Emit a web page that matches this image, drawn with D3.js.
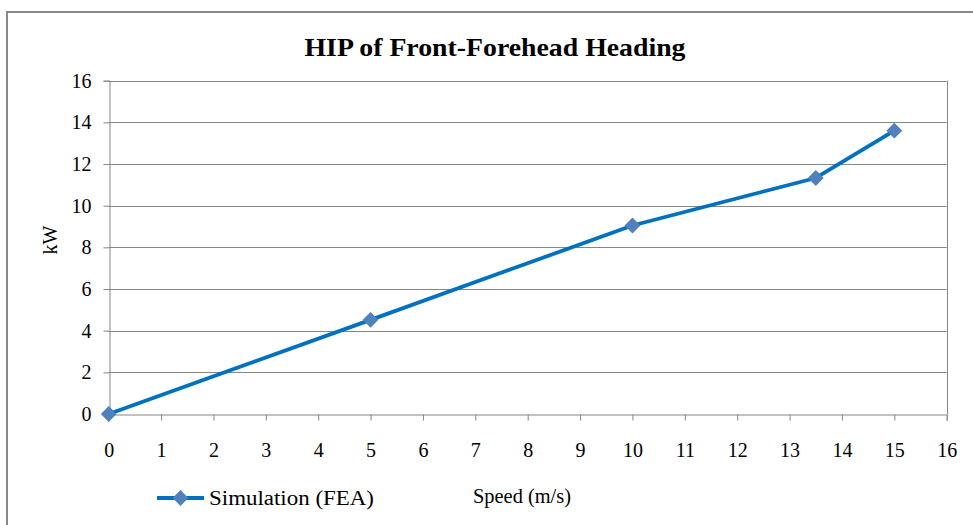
<!DOCTYPE html>
<html>
<head>
<meta charset="utf-8">
<script src="https://cdn.jsdelivr.net/npm/d3@7"></script>
<style>
html,body{margin:0;padding:0;background:#fff;}
svg{display:block;}
</style>
</head>
<body>
<svg id="chart" width="973" height="525" font-family="Liberation Serif, Times New Roman, serif"></svg>
<script>
const speeds = [0, 5, 10, 13.5, 15];
const powerKW = [0, 4.52, 9.05, 11.33, 13.6];
const xTicks = d3.range(0, 17, 1);
const yTicks = d3.range(0, 17, 2);
const chartTitle = "HIP of Front-Forehead Heading";
const xTitle = "Speed (m/s)";
const yTitle = "kW";
const seriesName = "Simulation (FEA)";

const FONT = "Liberation Serif, Times New Roman, serif";
const svg = d3.select("#chart");
const gridColor = "#868686";
const lineColor = "#0070C0";
const markerColor = "#4F81BD";

// outer chart frame
svg.append("rect").attr("x", 7).attr("y", 12).attr("width", 1000).attr("height", 600)
  .attr("fill", "#fff").attr("stroke", "#898989").attr("stroke-width", 2);

const x = d3.scaleLinear().domain([0, 16]).range([108.7, 946.7]);
const y = d3.scaleLinear().domain([0, 16]).range([414, 80.7]);

// gridlines
svg.append("g").selectAll("line").data(yTicks.filter(d => d > 0)).join("line")
  .attr("x1", x(0)).attr("x2", x(16))
  .attr("y1", d => Math.round(y(d)) + 0.5).attr("y2", d => Math.round(y(d)) + 0.5)
  .attr("stroke", gridColor).attr("stroke-width", 1);

// right border of plot
svg.append("line").attr("x1", Math.round(x(16)) + 0.5).attr("x2", Math.round(x(16)) + 0.5)
  .attr("y1", y(16)).attr("y2", y(0)).attr("stroke", gridColor);

// x axis
const xAxis = d3.axisBottom(x).tickValues(xTicks).tickFormat(d3.format("d")).tickSize(6).tickPadding(22);
const gx = svg.append("g").attr("transform", `translate(0,${Math.round(y(0)) + 0.5})`).call(xAxis)
  .attr("font-family", FONT).attr("font-size", 20);
gx.select(".domain").attr("stroke", gridColor);
gx.selectAll(".tick line").attr("stroke", gridColor);
gx.selectAll(".tick text").attr("fill", "#000");

// y axis
const yAxis = d3.axisLeft(y).tickValues(yTicks).tickFormat(d3.format("d")).tickSize(6).tickPadding(12);
const gy = svg.append("g").attr("transform", `translate(${Math.round(x(0)) + 0.5},0)`).call(yAxis)
  .attr("font-family", FONT).attr("font-size", 20);
gy.select(".domain").attr("stroke", gridColor);
gy.selectAll(".tick line").attr("stroke", gridColor);
gy.selectAll(".tick text").attr("fill", "#000");

// series line
const data = speeds.map((s, i) => ({ x: s, y: powerKW[i] }));
svg.append("path").datum(data)
  .attr("fill", "none").attr("stroke", lineColor).attr("stroke-width", 3.8)
  .attr("stroke-linejoin", "round")
  .attr("d", d3.line().x(d => x(d.x)).y(d => y(d.y)));

svg.append("g").selectAll("path").data(data).join("path")
  .attr("transform", d => `translate(${x(d.x)},${y(d.y)}) rotate(45)`)
  .attr("d", d3.symbol().type(d3.symbolSquare).size(125))
  .attr("fill", markerColor);

// title
svg.append("text").attr("x", 495).attr("y", 56).attr("text-anchor", "middle")
  .attr("font-family", FONT).attr("font-size", 25).attr("font-weight", "bold")
  .attr("textLength", 381).attr("lengthAdjust", "spacingAndGlyphs")
  .text(chartTitle);

// axis titles
svg.append("text").attr("transform", "translate(57,240) rotate(-90)").attr("text-anchor", "middle")
  .attr("font-family", FONT).attr("font-size", 20).text(yTitle);
svg.append("text").attr("x", 473).attr("y", 503)
  .attr("font-family", FONT).attr("font-size", 20)
  .attr("textLength", 98).attr("lengthAdjust", "spacingAndGlyphs").text(xTitle);

// legend
svg.append("line").attr("x1", 157).attr("x2", 204).attr("y1", 498).attr("y2", 498)
  .attr("stroke", lineColor).attr("stroke-width", 3.8);
svg.append("path").attr("transform", "translate(180.5,498) rotate(45)")
  .attr("d", d3.symbol().type(d3.symbolSquare).size(125)).attr("fill", markerColor);
svg.append("text").attr("x", 209).attr("y", 505)
  .attr("font-family", FONT).attr("font-size", 20)
  .attr("textLength", 165).attr("lengthAdjust", "spacingAndGlyphs").text(seriesName);
</script>
</body>
</html>
